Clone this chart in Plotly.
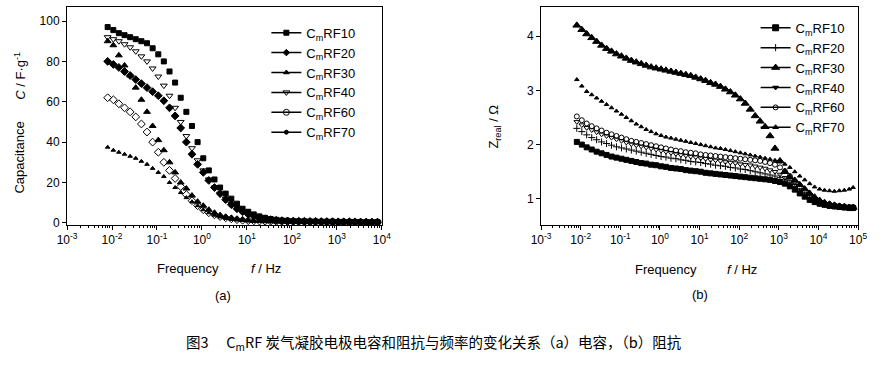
import plotly.graph_objects as go

# ---------------- data ----------------
FREQ = [0.008, 0.0107, 0.0142, 0.019, 0.0253, 0.0337, 0.045, 0.06, 0.08, 0.107,
        0.142, 0.19, 0.253, 0.337, 0.45, 0.6, 0.8, 1.07, 1.42, 1.9,
        2.53, 3.37, 4.5, 6.0, 8.0, 10.7, 14.2, 19.0, 25.3, 33.7,
        45, 60, 80, 107, 142, 190, 253, 337, 450, 600,
        800, 1070, 1420, 1900, 2530, 3370, 4500, 6000, 8000, 10700,
        14200, 19000, 25300, 33700, 45000, 60000, 75000]
FREQ_A = FREQ[:49]

SERIES = ["C<sub>m</sub>RF10", "C<sub>m</sub>RF20", "C<sub>m</sub>RF30",
          "C<sub>m</sub>RF40", "C<sub>m</sub>RF60", "C<sub>m</sub>RF70"]

# (a) capacitance, F/g
CAP_RF10 = [97, 95.5, 94, 93, 92, 91, 90, 89, 86.5, 83.5, 80, 75, 69.5, 62, 55, 48, 40, 32, 26, 21.5,
            17.5, 14.5, 12, 9.5, 7, 5.5, 4.2, 3.2, 2.5, 1.9, 1.5, 1.2, 1.0, 0.9,
            0.8, 0.8, 0.7, 0.7, 0.6, 0.6, 0.6, 0.5, 0.5, 0.5, 0.5, 0.4, 0.4, 0.4, 0.4]
CAP_RF20 = [80, 78.5, 77, 75, 73, 71, 69, 67, 65, 63, 60.5, 57, 53, 47, 40, 34, 29, 25, 21, 17.5,
            14.5, 11.5, 9, 7, 5.5, 4.2, 3.3, 2.6, 2, 1.6, 1.3, 1.1, 1.0, 0.9,
            0.8, 0.8, 0.7, 0.7, 0.6, 0.6, 0.6, 0.5, 0.5, 0.5, 0.5, 0.4, 0.4, 0.4, 0.4]
CAP_RF30 = [90, 88, 83, 78, 73, 67, 61, 55, 48, 41, 36, 30, 25, 20, 17, 13.5, 10.5, 8.5, 6.5, 5,
            3.8, 3, 2.4, 1.9, 1.5, 1.2, 1.0, 0.9,
            0.8, 0.8, 0.7, 0.7, 0.6, 0.6, 0.6, 0.5, 0.5, 0.5, 0.5, 0.5, 0.4, 0.4, 0.4, 0.4, 0.4, 0.4,
            0.3, 0.3, 0.3]
CAP_RF40 = [92, 91, 90, 88.5, 87, 85, 82.5, 80, 76.5, 72.5, 68, 63, 57, 50, 43, 37, 31, 26, 21.5, 17.5,
            14.5, 12, 9.5, 7.5, 5.5, 4.2, 3.2, 2.5, 2, 1.6, 1.3, 1.1, 1.0, 0.9,
            0.8, 0.7, 0.7, 0.6, 0.6, 0.6, 0.5, 0.5, 0.5, 0.5, 0.4, 0.4, 0.4, 0.4, 0.4]
CAP_RF60 = [62, 61, 59, 57, 55, 52.5, 49, 45, 40, 35, 30, 26, 22, 18, 14, 11, 8.5, 6.5, 5, 4,
            3.1, 2.5, 2, 1.6, 1.3, 1.1, 1.0, 0.9,
            0.8, 0.8, 0.7, 0.7, 0.6, 0.6, 0.6, 0.5, 0.5, 0.5, 0.5, 0.5, 0.4, 0.4, 0.4, 0.4, 0.4, 0.4,
            0.3, 0.3, 0.3]
CAP_RF70 = [37.5, 36, 35, 34, 33, 32, 30.5, 29, 27, 25, 23, 20, 17.5, 15, 12.5, 10.5, 8.5, 6.5, 5, 3.8,
            2.9, 2.2, 1.7, 1.4, 1.2, 1.0, 0.9, 0.8,
            0.8, 0.7, 0.7, 0.6, 0.6, 0.6, 0.5, 0.5, 0.5, 0.5, 0.5, 0.4, 0.4, 0.4, 0.4, 0.4,
            0.3, 0.3, 0.3, 0.3, 0.3]

# (b) real impedance, ohm
Z_RF10 = [2.05, 2.00, 1.95, 1.91, 1.87, 1.84, 1.81, 1.78, 1.76, 1.74, 1.72, 1.70, 1.68, 1.66, 1.65,
          1.63, 1.62, 1.60, 1.59, 1.57, 1.56, 1.55, 1.53, 1.52, 1.51, 1.50, 1.48, 1.47, 1.46, 1.45,
          1.44, 1.43, 1.42, 1.41, 1.40, 1.39, 1.38, 1.37, 1.36, 1.35, 1.33, 1.31, 1.28, 1.23, 1.17,
          1.10, 1.04, 0.98, 0.94, 0.91, 0.89, 0.87, 0.86, 0.85, 0.84, 0.83, 0.83]
Z_RF20 = [2.30, 2.24, 2.18, 2.13, 2.09, 2.05, 2.02, 1.99, 1.96, 1.94, 1.92, 1.90, 1.88, 1.86, 1.84,
          1.82, 1.80, 1.78, 1.77, 1.75, 1.74, 1.72, 1.71, 1.69, 1.68, 1.67, 1.65, 1.64, 1.62, 1.61,
          1.60, 1.58, 1.57, 1.55, 1.54, 1.52, 1.50, 1.48, 1.46, 1.44, 1.42, 1.39, 1.35, 1.29, 1.22,
          1.14, 1.07, 1.01, 0.96, 0.92, 0.90, 0.88, 0.87, 0.86, 0.85, 0.84, 0.84]
Z_RF30 = [4.20, 4.12, 4.04, 3.97, 3.90, 3.83, 3.77, 3.72, 3.67, 3.63, 3.59, 3.55, 3.52, 3.49, 3.46,
          3.43, 3.41, 3.39, 3.37, 3.35, 3.33, 3.31, 3.29, 3.27, 3.24, 3.21, 3.18, 3.14, 3.11, 3.07,
          3.02, 2.97, 2.91, 2.84, 2.76, 2.65, 2.53, 2.43, 2.33, 2.16, 1.93, 1.70, 1.50, 1.40, 1.34,
          1.26, 1.18, 1.10, 1.03, 0.97, 0.93, 0.90, 0.88, 0.86, 0.85, 0.84, 0.84]
Z_RF40 = [2.42, 2.36, 2.31, 2.27, 2.23, 2.19, 2.16, 2.13, 2.10, 2.07, 2.04, 2.01, 1.99, 1.97, 1.95,
          1.93, 1.91, 1.89, 1.87, 1.85, 1.83, 1.81, 1.80, 1.78, 1.77, 1.75, 1.74, 1.72, 1.71, 1.70,
          1.68, 1.67, 1.66, 1.64, 1.63, 1.62, 1.60, 1.58, 1.56, 1.53, 1.50, 1.45, 1.39, 1.32, 1.24,
          1.16, 1.09, 1.03, 0.98, 0.94, 0.91, 0.89, 0.87, 0.86, 0.85, 0.84, 0.84]
Z_RF60 = [2.52, 2.45, 2.39, 2.34, 2.30, 2.26, 2.22, 2.19, 2.16, 2.13, 2.10, 2.07, 2.05, 2.03, 2.01,
          1.99, 1.97, 1.95, 1.93, 1.91, 1.89, 1.88, 1.86, 1.85, 1.84, 1.82, 1.81, 1.80, 1.79, 1.78,
          1.77, 1.76, 1.75, 1.74, 1.73, 1.72, 1.71, 1.70, 1.68, 1.66, 1.63, 1.58, 1.51, 1.42, 1.32,
          1.22, 1.13, 1.05, 0.99, 0.95, 0.92, 0.90, 0.88, 0.87, 0.86, 0.85, 0.85]
Z_RF70 = [3.20, 3.08, 2.98, 2.92, 2.86, 2.80, 2.74, 2.68, 2.62, 2.56, 2.50, 2.44, 2.38, 2.33, 2.28,
          2.24, 2.20, 2.17, 2.14, 2.12, 2.10, 2.08, 2.06, 2.04, 2.02, 2.00, 1.98, 1.96, 1.94, 1.93,
          1.91, 1.89, 1.87, 1.85, 1.83, 1.81, 1.79, 1.77, 1.75, 1.73, 1.71, 1.68, 1.64, 1.58, 1.50,
          1.42, 1.35, 1.28, 1.22, 1.18, 1.16, 1.15, 1.14, 1.15, 1.16, 1.18, 1.21]

XTICK_EXP_A = [-3, -2, -1, 0, 1, 2, 3, 4]
XTICK_EXP_B = [-3, -2, -1, 0, 1, 2, 3, 4, 5]
YTICKS_A = [0, 20, 40, 60, 80, 100]
YTICKS_B = [1, 2, 3, 4]

CAPTION = "图3　 C<sub>m</sub>RF 炭气凝胶电极电容和阻抗与频率的变化关系（a）电容，（b）阻抗"

# ---------------- styling ----------------
W, H = 884, 365
FONT = "Liberation Sans, Arial, sans-serif"
BLACK = "#000000"

def px(x):
    return x / W

def py(y):
    return 1 - y / H

STYLE_A = [
    dict(symbol="square", size=5),
    dict(symbol="diamond", size=6),
    dict(symbol="triangle-up", size=6),
    dict(symbol="triangle-down-open", size=6),
    dict(symbol="diamond-open", size=6),
    dict(symbol="triangle-up", size=4),
]
LEG_A = ["square", "diamond", "triangle-up", "triangle-down-open", "circle-open-dot", "circle"]
LEG_A_SIZE = [5, 5, 5, 6, 6, 4]

STYLE_B = [
    dict(symbol="square", size=5),
    dict(symbol="cross-thin", size=5),
    dict(symbol="triangle-up", size=7),
    dict(symbol="triangle-down-open", size=5),
    dict(symbol="circle-open", size=5),
    dict(symbol="triangle-up", size=4),
]
LEG_B = ["square", "cross-thin", "triangle-up", "triangle-down", "circle-open", "triangle-up"]
LEG_B_SIZE = [6, 5, 7, 5, 5, 5]

fig = go.Figure()

cap = [CAP_RF10, CAP_RF20, CAP_RF30, CAP_RF40, CAP_RF60, CAP_RF70]
zre = [Z_RF10, Z_RF20, Z_RF30, Z_RF40, Z_RF60, Z_RF70]

for name, ys, st in zip(SERIES, cap, STYLE_A):
    fig.add_trace(go.Scatter(
        x=FREQ_A, y=ys, mode="markers", name=name, showlegend=False,
        marker=dict(symbol=st["symbol"], size=st["size"], color=BLACK,
                    line=dict(color=BLACK, width=1)),
        xaxis="x", yaxis="y"))
for name, ys, st in zip(SERIES, zre, STYLE_B):
    fig.add_trace(go.Scatter(
        x=FREQ, y=ys, mode="markers", name=name, showlegend=False,
        marker=dict(symbol=st["symbol"], size=st["size"], color=BLACK,
                    line=dict(color=BLACK, width=1)),
        xaxis="x2", yaxis="y2"))

# legend entries (line + symbol, as in the original)
for name, sym, sz in zip(SERIES, LEG_A, LEG_A_SIZE):
    fig.add_trace(go.Scatter(
        x=[None], y=[None], mode="lines+markers", name=name, legend="legend",
        line=dict(color=BLACK, width=1.5),
        marker=dict(symbol=sym, size=sz, color=BLACK, line=dict(color=BLACK, width=1)),
        xaxis="x", yaxis="y"))
for name, sym, sz in zip(SERIES, LEG_B, LEG_B_SIZE):
    fig.add_trace(go.Scatter(
        x=[None], y=[None], mode="lines+markers", name=name, legend="legend2",
        line=dict(color=BLACK, width=1.5),
        marker=dict(symbol=sym, size=sz, color=BLACK, line=dict(color=BLACK, width=1)),
        xaxis="x2", yaxis="y2"))


def minor_vals(e0, e1):
    out = []
    for e in range(e0, e1):
        for m in range(2, 10):
            out.append(m * 10.0 ** e)
    return out


def xaxis_cfg(domain, exps):
    return dict(
        type="log", domain=domain, range=[exps[0], exps[-1]],
        tickmode="array", tickvals=[10.0 ** e for e in exps],
        ticktext=["10<sup>%d</sup>" % e for e in exps],
        ticks="outside", ticklen=4, tickwidth=1, tickcolor=BLACK,
        minor=dict(tickmode="array", tickvals=minor_vals(exps[0], exps[-1]),
                   ticks="outside", ticklen=2, tickwidth=1, tickcolor=BLACK, showgrid=False),
        showline=True, linecolor=BLACK, linewidth=1, mirror=True,
        showgrid=False, zeroline=False,
        tickfont=dict(family=FONT, size=12, color=BLACK), anchor=None)


ydom = [py(228), py(7)]
xa = xaxis_cfg([px(58.3), px(380)], XTICK_EXP_A)
xa["anchor"] = "y"
xb = xaxis_cfg([px(542.7), px(866.7)], XTICK_EXP_B)
xb["anchor"] = "y2"

fig.update_layout(
    width=W, height=H,
    margin=dict(l=0, r=0, t=0, b=0),
    paper_bgcolor="white", plot_bgcolor="white",
    font=dict(family=FONT, size=13, color=BLACK),
    xaxis=xa, xaxis2=xb,
    yaxis=dict(domain=ydom, anchor="x", range=[-1, 107], tickmode="array", tickvals=YTICKS_A,
               ticks="outside", ticklen=4, tickcolor=BLACK, showline=True, linecolor=BLACK,
               linewidth=1, mirror=True, showgrid=False, zeroline=False,
               tickfont=dict(family=FONT, size=12, color=BLACK)),
    yaxis2=dict(domain=ydom, anchor="x2", range=[0.52, 4.54], tickmode="array", tickvals=YTICKS_B,
                ticks="outside", ticklen=4, tickcolor=BLACK, showline=True, linecolor=BLACK,
                linewidth=1, mirror=True, showgrid=False, zeroline=False,
                tickfont=dict(family=FONT, size=12, color=BLACK)),
    legend=dict(x=px(262), y=py(18), xanchor="left", yanchor="top",
                bgcolor="rgba(0,0,0,0)", borderwidth=0,
                font=dict(family=FONT, size=13, color=BLACK), tracegroupgap=0),
    legend2=dict(x=px(762), y=py(13), xanchor="left", yanchor="top",
                 bgcolor="rgba(0,0,0,0)", borderwidth=0,
                 font=dict(family=FONT, size=13, color=BLACK), tracegroupgap=0),
    showlegend=True,
)

ann_font = dict(family=FONT, size=13, color=BLACK)
annots = [
    dict(text="Capacitance", x=px(10), y=py(160), textangle=-90),
    dict(text="<i>C</i> / F·g<sup>-1</sup>", x=px(10), y=py(77), textangle=-90),
    dict(text="Z<sub>real</sub> / Ω", x=px(495), y=py(128), textangle=-90),
    dict(text="Frequency", x=px(182), y=py(272)),
    dict(text="<i>f</i> / Hz", x=px(262), y=py(272)),
    dict(text="Frequency", x=px(670), y=py(273)),
    dict(text="<i>f</i> / Hz", x=px(748), y=py(273)),
    dict(text="(a)", x=px(218), y=py(300)),
    dict(text="(b)", x=px(705), y=py(299)),
]
for a in annots:
    fig.add_annotation(xref="paper", yref="paper", showarrow=False,
                       xanchor="center", yanchor="middle", font=ann_font, **a)

fig.add_annotation(xref="paper", yref="paper", showarrow=False, text=CAPTION,
                   x=px(433), y=py(347), xanchor="center", yanchor="middle",
                   font=dict(family="Noto Sans CJK SC, Liberation Serif, serif", size=14.5, color=BLACK))

fig.write_html("out.html")
